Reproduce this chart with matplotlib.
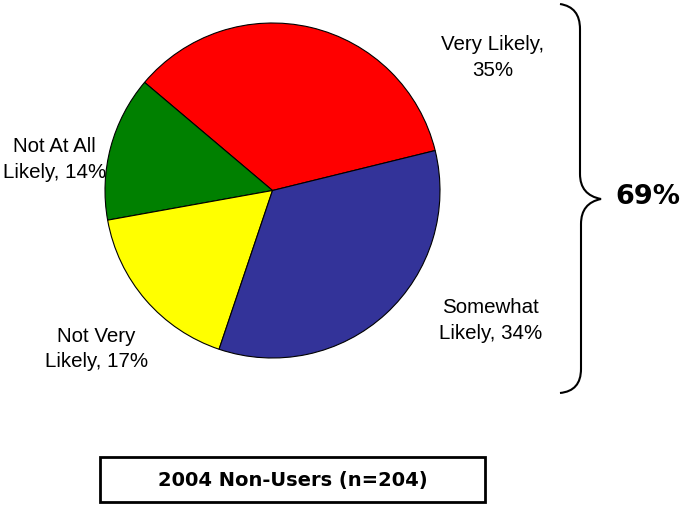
import matplotlib.pyplot as plt
from matplotlib.path import Path
from matplotlib.patches import PathPatch, Rectangle

# data
categories = ['Very Likely', 'Not At All\nLikely', 'Not Very\nLikely', 'Somewhat\nLikely']
values = [35, 14, 17, 34]
colors = ['#FF0000', '#008000', '#FFFF00', '#333399']
label_xy = [(1.315, 0.80), (-1.30, 0.19), (-1.05, -0.94), (1.30, -0.77)]
total_likely = values[0] + values[3]

W, H = 682, 506
fig = plt.figure(figsize=(W / 100, H / 100), dpi=100)

# pie axes: center (272.5,191.5) px, radius 167.5 px
ax = fig.add_axes([105 / W, (H - 359) / H, 335 / W, 335 / H])
ax.pie(values, colors=colors, startangle=13.8, counterclock=True,
       wedgeprops=dict(edgecolor='black', linewidth=0.8))
ax.set_xlim(-1, 1)
ax.set_ylim(-1, 1)
ax.set_aspect('equal')
ax.axis('off')

for cat, v, (x, y) in zip(categories, values, label_xy):
    if '\n' in cat:
        first, second = cat.split('\n')
        txt = f"{first}\n{second}, {v}%"
    else:
        txt = f"{cat},\n{v}%"
    ax.text(x, y, txt, ha='center', va='center', fontsize=14.8,
            family='Liberation Sans', linespacing=1.45, clip_on=False)

# curly brace on the right (pixel coords -> figure fraction)
def px(x, y):
    return (x / W, 1 - y / H)

verts = [px(560, 5), px(580, 8), px(580, 30), px(580, 100),
         px(580, 175), px(580, 196), px(601, 200),
         px(581, 204), px(581, 225), px(581, 300),
         px(581, 370), px(581, 392), px(560, 394)]
codes = [Path.MOVETO, Path.CURVE3, Path.CURVE3, Path.LINETO,
         Path.LINETO, Path.CURVE3, Path.CURVE3,
         Path.CURVE3, Path.CURVE3, Path.LINETO,
         Path.LINETO, Path.CURVE3, Path.CURVE3]
fig.patches.append(PathPatch(Path(verts, codes), transform=fig.transFigure,
                             facecolor='none', edgecolor='black', linewidth=1.5))

fig.text(648 / W, 1 - 197 / H, f"{total_likely}%", ha='center', va='center',
         fontsize=19.5, fontweight='bold', family='DejaVu Sans')

# caption box
fig.patches.append(Rectangle(px(100, 503), 385 / W, 45 / H, transform=fig.transFigure,
                             facecolor='white', edgecolor='black', linewidth=2))
fig.text(293 / W, 1 - 481 / H, "2004 Non-Users (n=204)", ha='center', va='center',
         fontsize=14, fontweight='bold', family='DejaVu Sans')

fig.savefig('out.png', dpi=100)
